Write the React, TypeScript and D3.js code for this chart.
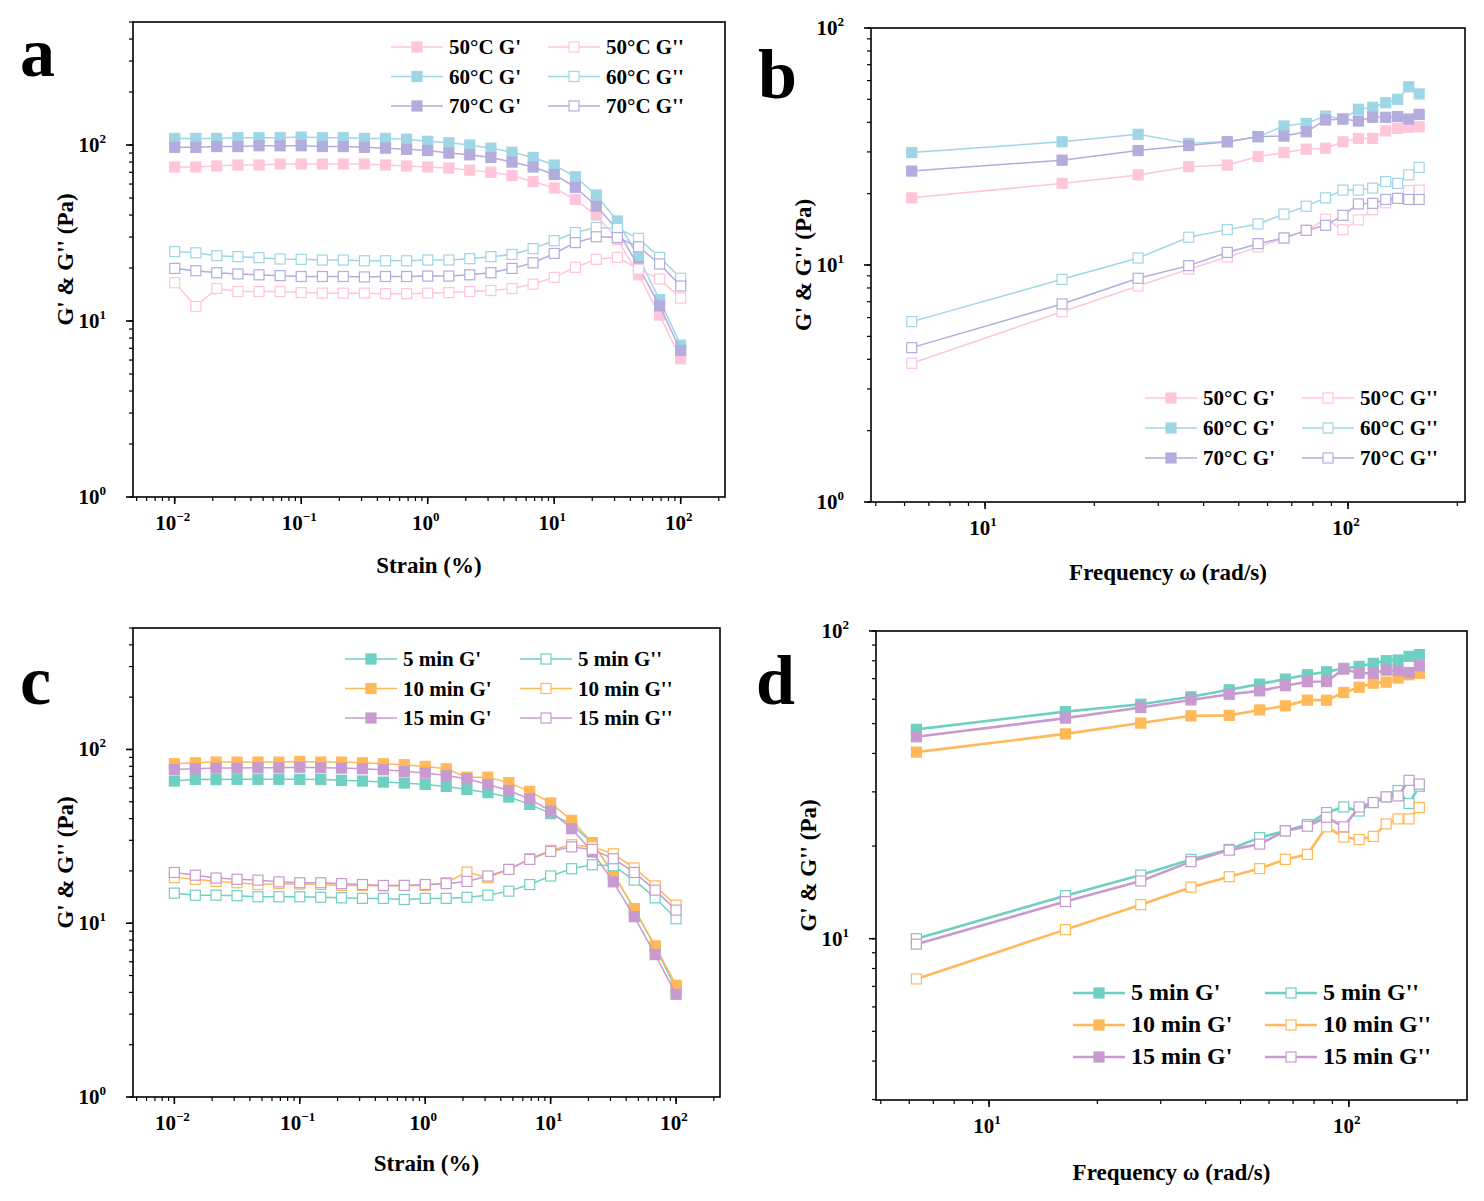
import React from 'react'
import * as d3 from 'd3'

// strain sweep (%), 25 points
const strain = [0.01, 0.0147, 0.0215, 0.0316, 0.0464, 0.0681, 0.1, 0.147, 0.215, 0.316, 0.464, 0.681, 1, 1.47, 2.15, 3.16, 4.64, 6.81, 10, 14.7, 21.5, 31.6, 46.4, 68.1, 100]
// frequency sweep (rad/s), 16 points
const freq = [6.28, 16.3, 26.4, 36.4, 46.5, 56.5, 66.6, 76.7, 86.7, 96.8, 106.8, 116.9, 127, 137, 147, 157]

const aG1_50 = [75, 75, 76, 77, 77, 78, 78, 78, 78, 78, 77, 76, 75, 74, 72, 70, 67, 62, 57, 49, 40, 29, 18.3, 10.8, 6.1]
const aG1_60 = [109, 109, 109, 110, 110, 110, 111, 110, 110, 109, 109, 108, 105, 103, 100, 96, 91, 85, 77, 66, 52, 37, 23, 13.2, 7.3]
const aG1_70 = [97, 97, 98, 98, 99, 99, 99, 98, 98, 97, 96, 94.5, 93, 90, 88, 85, 80, 75, 68, 57.5, 45, 33, 20.4, 12.2, 6.8]
const aG2_50 = [16.5, 12.1, 15.3, 14.7, 14.7, 14.7, 14.5, 14.4, 14.4, 14.4, 14.3, 14.3, 14.4, 14.5, 14.7, 14.9, 15.3, 16.2, 17.7, 20.2, 22.4, 23, 19.7, 17.3, 13.5]
const aG2_60 = [24.8, 24.4, 23.5, 23.2, 22.9, 22.5, 22.4, 22.2, 22.2, 22, 22, 22, 22.2, 22.2, 22.6, 23.2, 23.9, 25.8, 28.6, 31.8, 34, 33.6, 29.5, 23, 17.5]
const aG2_70 = [19.9, 19.3, 18.8, 18.5, 18.3, 18.1, 17.9, 17.9, 17.9, 17.8, 17.9, 17.9, 18, 18, 18.3, 18.8, 19.9, 21.4, 24.2, 27.9, 30.1, 29.8, 26.4, 21.1, 15.8]

const bG1_50 = [19.2, 22.1, 24, 26, 26.4, 28.7, 29.8, 30.8, 31.1, 33.1, 34.2, 34.2, 36.8, 37.7, 38.1, 38.3]
const bG1_60 = [29.8, 33.1, 35.6, 32.6, 33.1, 34.8, 38.6, 39.6, 42.5, 41.3, 45.4, 46.3, 48.4, 50, 56.5, 52.7]
const bG1_70 = [24.9, 27.7, 30.4, 31.9, 33.1, 34.8, 35, 36.5, 40.9, 41.3, 40.5, 42, 42, 42.3, 41.3, 43.2]
const bG2_50 = [3.85, 6.35, 8.16, 9.6, 10.8, 11.9, 13, 14, 15.6, 14.1, 15.5, 17.1, 18.3, 19.1, 20.6, 20.7]
const bG2_60 = [5.77, 8.7, 10.7, 13.1, 14.1, 14.9, 16.4, 17.7, 19.2, 20.7, 20.7, 21.1, 22.5, 22.1, 24, 25.8]
const bG2_70 = [4.48, 6.85, 8.79, 9.94, 11.3, 12.3, 13, 14, 14.7, 16.2, 18.1, 18.2, 18.9, 19.1, 18.9, 18.9]

const cG1_5 = [65.8, 67.3, 67.1, 67.3, 67.3, 67.3, 67.3, 67.1, 66.4, 65.8, 64.9, 64.1, 62.9, 61.3, 58.9, 56.4, 53.2, 48.3, 42.7, 36.9, 29, 19.3, 12.1, 7.3, 4.2]
const cG1_10 = [82.7, 83.8, 84.6, 84.6, 84.6, 84.6, 85.3, 84.6, 84.6, 83.8, 82.7, 81.7, 79.9, 77.4, 69.3, 69.3, 64.4, 57.4, 49.2, 39.1, 29.1, 19.3, 12.1, 7.4, 4.4]
const cG1_15 = [76.7, 77.4, 78.1, 78.1, 78.4, 78.4, 79.1, 78.4, 78.1, 77.4, 76.4, 74.8, 73.1, 70.9, 67.8, 62.9, 58.1, 52, 44.2, 35, 25.7, 17.3, 10.9, 6.6, 3.9]
const cG2_5 = [14.9, 14.5, 14.5, 14.4, 14.2, 14.2, 14.2, 14.1, 14, 13.9, 13.9, 13.7, 13.9, 13.9, 14.1, 14.5, 15.3, 16.7, 18.7, 20.6, 21.7, 21.4, 17.7, 14, 10.6]
const cG2_10 = [18.3, 17.9, 17.4, 17.1, 16.7, 16.9, 16.8, 16.7, 16.5, 16.5, 16.4, 16.5, 16.5, 17.1, 19.7, 18.3, 20.4, 23.5, 26.3, 28.3, 27.5, 25.1, 20.8, 16.4, 12.7]
const cG2_15 = [19.6, 18.9, 18.2, 17.9, 17.7, 17.3, 17.1, 17.1, 16.9, 16.7, 16.5, 16.5, 16.7, 16.9, 17.4, 18.7, 20.4, 23.3, 25.9, 27.5, 26.6, 23.5, 19.6, 15.5, 11.9]

const dG1_5 = [47.9, 54.7, 57.8, 61.1, 64.4, 67.2, 69.8, 72.1, 73.7, 75.6, 76.7, 78.5, 80.1, 80.5, 82.7, 83.8]
const dG1_10 = [40.4, 46.3, 50.2, 53, 53.2, 55.4, 57.1, 59.6, 59.6, 63.1, 65.6, 67.7, 68.2, 70.3, 72.1, 72.9]
const dG1_15 = [45.3, 52.1, 56.4, 59.7, 62.3, 63.9, 66.4, 68.4, 68.5, 75.2, 72.9, 72.9, 74.6, 74.3, 73.3, 77.1]
const dG2_5 = [10, 13.8, 16.1, 18.1, 19.5, 21.3, 22.4, 23.5, 25.7, 26.8, 26, 27.7, 28.9, 30.3, 27.5, 31.3]
const dG2_10 = [7.4, 10.7, 12.9, 14.7, 15.9, 16.9, 18.1, 18.8, 23.1, 21.4, 21, 21.5, 23.6, 24.5, 24.5, 26.7]
const dG2_15 = [9.6, 13.2, 15.4, 17.8, 19.4, 20.3, 22.4, 23.2, 24.8, 23.1, 26.8, 27.7, 28.9, 29.1, 32.7, 31.8]

const tempNames = ['50°C', '60°C', '70°C']
const timeNames = ['5 min', '10 min', '15 min']
const tempColors = ['#ffc6da', '#9fd6e6', '#b3acdd']
const timeColors = ['#6fd0c2', '#ffb959', '#c89bd0']

const FONT = '"Liberation Serif", "Times New Roman", serif'

interface Series { name: string; color: string; filled: boolean; values: number[] }

interface PanelProps {
  box: [number, number, number, number]
  xDomain: [number, number]
  yDomain: [number, number]
  xs: number[]
  series: Series[]
  xMajor: number[]
  yMajor: number[]
  xLabel: string
  xLabelY: number
  letter: string
  letterPos: [number, number]
  legend: { x1: number; x2: number; y0: number; dy: number; fs: number }
  lineW: number
}

const exp = (v: number) => {
  const e = Math.round(Math.log10(v))
  return e < 0 ? `−${-e}` : `${e}`
}

function minors(domain: [number, number]) {
  const out: number[] = []
  for (let p = -3; p <= 3; p++) {
    for (let k = 1; k <= 9; k++) {
      const v = k * Math.pow(10, p)
      if (v >= domain[0] && v <= domain[1]) out.push(v)
    }
  }
  return out
}

const Panel: React.FC<PanelProps> = (p) => {
  const [l, t, r, b] = p.box
  const x = d3.scaleLog().domain(p.xDomain).range([l, r])
  const y = d3.scaleLog().domain(p.yDomain).range([b, t])
  const line = d3.line<number>().x((_, i) => x(p.xs[i])).y(d => y(d))
  const ms = 10
  const half = ms / 2
  return (
    <g fontFamily={FONT} fontWeight="bold">
      {p.series.map((s, si) => (
        <g key={si}>
          <path d={line(s.values) || ''} fill="none" stroke={s.color} strokeWidth={p.lineW} />
          {s.values.map((v, i) => (
            <rect key={i} x={x(p.xs[i]) - half} y={y(v) - half} width={ms} height={ms}
              fill={s.filled ? s.color : '#fff'} stroke={s.color} strokeWidth={1.2} />
          ))}
        </g>
      ))}
      <rect x={l} y={t} width={r - l} height={b - t} fill="none" stroke="#000" strokeWidth={1.6} />
      {minors(p.xDomain).map((v, i) => (
        <line key={'xm' + i} x1={x(v)} x2={x(v)} y1={b} y2={b + 4} stroke="#000" strokeWidth={1.2} />
      ))}
      {p.xMajor.map((v, i) => (
        <g key={'xM' + i}>
          <line x1={x(v)} x2={x(v)} y1={b} y2={b + 7} stroke="#000" strokeWidth={1.6} />
          <text x={x(v) - 2} y={b + 33} textAnchor="middle" fontSize={21}>10<tspan dy={-9} fontSize={13}>{exp(v)}</tspan></text>
        </g>
      ))}
      {minors(p.yDomain).map((v, i) => (
        <line key={'ym' + i} x1={l} x2={l - 4} y1={y(v)} y2={y(v)} stroke="#000" strokeWidth={1.2} />
      ))}
      {p.yMajor.map((v, i) => (
        <g key={'yM' + i}>
          <line x1={l} x2={l - 7} y1={y(v)} y2={y(v)} stroke="#000" strokeWidth={1.6} />
          <text x={l - 27} y={y(v) + 7} textAnchor="end" fontSize={21}>10<tspan dy={-9} fontSize={13}>{exp(v)}</tspan></text>
        </g>
      ))}
      <text x={(l + r) / 2} y={p.xLabelY} textAnchor="middle" fontSize={23}>{p.xLabel}</text>
      <text transform={`translate(${l - 60},${(t + b) / 2}) rotate(-90)`} textAnchor="middle" fontSize={23}>G' &amp; G'' (Pa)</text>
      <text x={p.letterPos[0]} y={p.letterPos[1]} fontSize={70}>{p.letter}</text>
      {p.series.map((s, si) => {
        const col = si < 3 ? 0 : 1
        const row = si % 3
        const lx = col === 0 ? p.legend.x1 : p.legend.x2
        const ly = p.legend.y0 + row * p.legend.dy
        return (
          <g key={'lg' + si}>
            <line x1={lx} x2={lx + 52} y1={ly} y2={ly} stroke={s.color} strokeWidth={p.lineW} />
            <rect x={lx + 26 - half} y={ly - half} width={ms} height={ms} fill={s.filled ? s.color : '#fff'} stroke={s.color} strokeWidth={1.2} />
            <text x={lx + 58} y={ly + 7} fontSize={p.legend.fs}>{s.name}</text>
          </g>
        )
      })}
    </g>
  )
}

function mk(names: string[], colors: string[], g1: number[][], g2: number[][]): Series[] {
  return [
    ...names.map((n, i) => ({ name: `${n} G'`, color: colors[i], filled: true, values: g1[i] })),
    ...names.map((n, i) => ({ name: `${n} G''`, color: colors[i], filled: false, values: g2[i] })),
  ]
}

export default function App() {
  const sA = mk(tempNames, tempColors, [aG1_50, aG1_60, aG1_70], [aG2_50, aG2_60, aG2_70])
  const sB = mk(tempNames, tempColors, [bG1_50, bG1_60, bG1_70], [bG2_50, bG2_60, bG2_70])
  const sC = mk(timeNames, timeColors, [cG1_5, cG1_10, cG1_15], [cG2_5, cG2_10, cG2_15])
  const sD = mk(timeNames, timeColors, [dG1_5, dG1_10, dG1_15], [dG2_5, dG2_10, dG2_15])
  return (
    <svg width={1484} height={1201} style={{ position: 'absolute', left: 0, top: 0, background: '#fff' }}>
      <Panel box={[133, 22, 725, 497]} xDomain={[0.00468, 224]} yDomain={[1, 500]} xs={strain} series={sA}
        xMajor={[0.01, 0.1, 1, 10, 100]} yMajor={[1, 10, 100]} xLabel="Strain (%)" xLabelY={573}
        letter="a" letterPos={[20, 76]} legend={{ x1: 391, x2: 548, y0: 47, dy: 29.5, fs: 21 }} lineW={1.5} />
      <Panel box={[871, 28, 1465, 502]} xDomain={[4.85, 210]} yDomain={[1, 100]} xs={freq} series={sB}
        xMajor={[10, 100]} yMajor={[1, 10, 100]} xLabel="Frequency ω (rad/s)" xLabelY={580}
        letter="b" letterPos={[758, 98]} legend={{ x1: 1145, x2: 1302, y0: 398, dy: 30, fs: 21 }} lineW={1.5} />
      <Panel box={[133, 628, 720, 1097]} xDomain={[0.00468, 224]} yDomain={[1, 500]} xs={strain} series={sC}
        xMajor={[0.01, 0.1, 1, 10, 100]} yMajor={[1, 10, 100]} xLabel="Strain (%)" xLabelY={1171}
        letter="c" letterPos={[20, 704]} legend={{ x1: 345, x2: 520, y0: 659, dy: 29.5, fs: 21 }} lineW={1.5} />
      <Panel box={[876, 631, 1467, 1100]} xDomain={[4.85, 213]} yDomain={[2.99, 100]} xs={freq} series={sD}
        xMajor={[10, 100]} yMajor={[10, 100]} xLabel="Frequency ω (rad/s)" xLabelY={1180}
        letter="d" letterPos={[756, 704]} legend={{ x1: 1073, x2: 1265, y0: 993, dy: 32, fs: 24 }} lineW={2.6} />
    </svg>
  )
}
